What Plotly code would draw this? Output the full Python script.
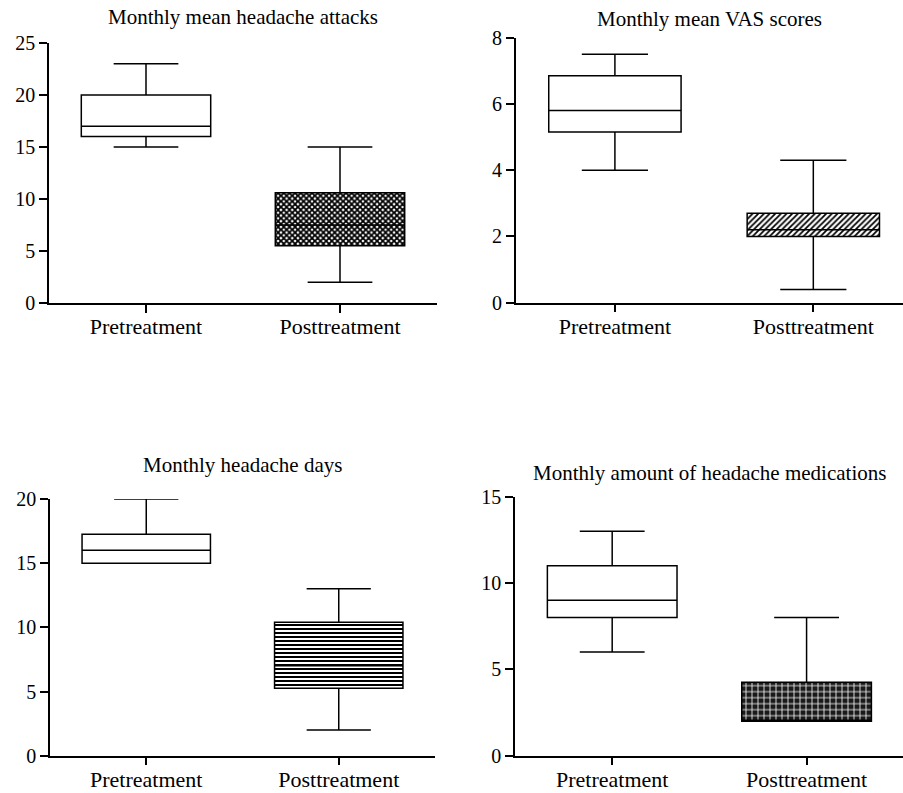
import plotly.graph_objects as go

categories = ["Pretreatment", "Posttreatment"]

titles = ["Monthly mean headache attacks", "Monthly mean VAS scores",
          "Monthly headache days", "Monthly amount of headache medications"]

attacks_min = [15, 2]
attacks_q1 = [16, 5.5]
attacks_median = [17, 7.5]
attacks_q3 = [20, 10.6]
attacks_max = [23, 15]

vas_min = [4.0, 0.4]
vas_q1 = [5.15, 2.0]
vas_median = [5.8, 2.2]
vas_q3 = [6.85, 2.7]
vas_max = [7.5, 4.3]

days_min = [15, 2]
days_q1 = [15, 5.25]
days_median = [16, 7]
days_q3 = [17.25, 10.4]
days_max = [20, 13]

meds_min = [6, 2]
meds_q1 = [8, 2]
meds_median = [9, 2]
meds_q3 = [11, 4.25]
meds_max = [13, 8]

y_ranges = [[0, 25], [0, 8], [0, 20], [0, 15]]
y_dticks = [5, 2, 5, 5]

panels = [
    (attacks_min, attacks_q1, attacks_median, attacks_q3, attacks_max),
    (vas_min, vas_q1, vas_median, vas_q3, vas_max),
    (days_min, days_q1, days_median, days_q3, days_max),
    (meds_min, meds_q1, meds_median, meds_q3, meds_max),
]

patterns = [
    dict(shape="x", fgcolor="black", bgcolor="white", size=4, solidity=0.7),
    dict(shape="/", fgcolor="black", bgcolor="white", size=4, solidity=0.45),
    dict(shape="-", fgcolor="black", bgcolor="white", size=4, solidity=0.5),
    dict(shape="+", fgcolor="white", bgcolor="#1a1a1a", size=6, solidity=0.25),
]

W, H = 903, 793
# pixel geometry of each panel: (x0, x1, ytop, ybottom)
geom = [(49, 437, 43, 303), (515.7, 903, 37.7, 302.7),
        (50, 435, 499, 755.7), (515, 903, 496.7, 755.7)]
x_ranges = [[-0.5, 1.5], [-0.5, 1.452], [-0.5, 1.5], [-0.5, 1.496]]
title_mid = [17, 19, 465, 473]

FONT = "Liberation Serif"
fig = go.Figure()
BOXW = 0.667

for i, (mn, q1, med, q3, mx) in enumerate(panels):
    xa = "x" if i == 0 else f"x{i+1}"
    ya = "y" if i == 0 else f"y{i+1}"
    fig.add_trace(go.Bar(
        x=[categories[1]], y=[q3[1] - q1[1]], base=[q1[1]], width=BOXW,
        marker=dict(color="white", line=dict(width=0), pattern=patterns[i]),
        xaxis=xa, yaxis=ya, showlegend=False, hoverinfo="skip"))
    fig.add_trace(go.Box(
        x=categories, q1=q1, median=med, q3=q3, lowerfence=mn, upperfence=mx,
        width=BOXW, whiskerwidth=0.5, fillcolor="rgba(0,0,0,0)",
        line=dict(color="black", width=1.5), boxpoints=False,
        xaxis=xa, yaxis=ya, showlegend=False))

layout = dict(
    template="none",
    width=W, height=H, margin=dict(l=0, r=0, t=0, b=0, autoexpand=False),
    paper_bgcolor="white", plot_bgcolor="white",
    font=dict(family=FONT, size=20, color="black"),
    showlegend=False, barmode="overlay", boxmode="overlay",
    annotations=[],
)
axis_common = dict(showline=True, linecolor="black", linewidth=1.5,
                   ticks="outside", ticklen=8, tickwidth=1.5, tickcolor="black",
                   showgrid=False, zeroline=False, fixedrange=True,
                   automargin=False)
for i, (x0, x1, yt, yb) in enumerate(geom):
    sfx = "" if i == 0 else str(i + 1)
    layout["xaxis" + sfx] = dict(
        axis_common, domain=[x0 / W, x1 / W], range=x_ranges[i],
        anchor="y" + sfx, type="category", categoryorder="array",
        categoryarray=categories, tickfont=dict(size=22, family=FONT),
        ticklabelstandoff=-5)
    layout["yaxis" + sfx] = dict(
        axis_common, domain=[(H - yb) / H, (H - yt) / H], range=y_ranges[i],
        dtick=y_dticks[i], tick0=0, anchor="x" + sfx,
        tickfont=dict(size=20, family=FONT), ticklabelstandoff=0)
    layout["annotations"].append(dict(
        text=titles[i], xref="paper", yref="paper",
        x=(x0 + x1) / 2 / W, y=(H - title_mid[i]) / H,
        xanchor="center", yanchor="middle", showarrow=False,
        font=dict(size=21, family=FONT, color="black")))

fig.update_layout(**layout)
fig.write_html("out.html")
